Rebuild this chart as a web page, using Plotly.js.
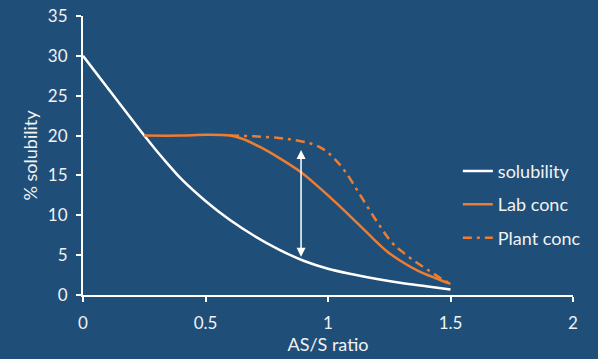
<!DOCTYPE html>
<html><head><meta charset="utf-8">
<script src="https://cdn.plot.ly/plotly-3.0.1.min.js"></script>
<style>html,body{margin:0;padding:0;background:#1f4e79;}#chart{width:598px;height:359px;}</style>
</head><body><div id="chart"></div>
<script>
const solX = [0, 0.125, 0.25, 0.3, 0.35, 0.4, 0.5, 0.6, 0.7, 0.8, 0.9, 1.0, 1.1, 1.2, 1.3, 1.4, 1.5];
const solY = [30, 25, 20, 18.1, 16.3, 14.6, 11.8, 9.4, 7.4, 5.7, 4.3, 3.3, 2.6, 2.0, 1.5, 1.1, 0.7];
const labX = [0.25, 0.4, 0.5, 0.6, 0.65, 0.72, 0.8, 0.89, 0.96, 1.0, 1.07, 1.1, 1.17, 1.24, 1.3, 1.37, 1.44, 1.5];
const labY = [20, 20, 20.1, 20, 19.6, 18.6, 17.2, 15.4, 13.6, 12.5, 10.5, 9.6, 7.5, 5.5, 4.2, 3.0, 2.1, 1.4];
const plantX = [0.6, 0.7, 0.8, 0.87, 0.93, 0.98, 1.02, 1.07, 1.13, 1.2, 1.26, 1.3, 1.36, 1.41, 1.46, 1.5];
const plantY = [20, 19.9, 19.7, 19.4, 19.0, 18.3, 17.3, 15.5, 12.6, 9.2, 6.6, 5.5, 4.1, 3.1, 2.1, 1.4];
const names = ["solubility", "Lab conc", "Plant conc"];
const xTicks = [0, 0.5, 1, 1.5, 2];
const xTickText = ["0", "0.5", "1", "1.5", "2"];
const yTicks = [0, 5, 10, 15, 20, 25, 30, 35];
const arrowX = 0.89, arrowTop = 18.2, arrowBottom = 4.6;

const orange = "#ED7D31";
const fontFam = "Lato, 'Open Sans', sans-serif";
const txt = "#f2f2f2";
const traces = [
  {x: solX, y: solY, name: names[0], mode: "lines", line: {color: "#ffffff", width: 2.5, shape: "spline"}, legendgroup: "a"},
  {x: labX, y: labY, name: names[1], mode: "lines", line: {color: orange, width: 2.5, shape: "spline"}, legendgroup: "b"},
  {x: plantX, y: plantY, name: names[2], mode: "lines", line: {color: orange, width: 2.5, shape: "spline", dash: "9px,5px,3px,5px"}, legendgroup: "c"}
];
const axisCommon = {
  showgrid: false, zeroline: false, showline: true, linecolor: "#ffffff", linewidth: 2,
  ticks: "outside", tickcolor: "#ffffff", ticklen: 5, tickwidth: 2,
  tickfont: {family: fontFam, size: 17, color: txt}
};
const layout = {
  width: 598, height: 359,
  paper_bgcolor: "#1f4e79", plot_bgcolor: "#1f4e79",
  margin: {l: 83, r: 23, t: 16, b: 64},
  font: {family: fontFam, color: txt, size: 17},
  xaxis: Object.assign({}, axisCommon, {range: [0, 2], tickvals: xTicks, ticktext: xTickText, ticklabelstandoff: 7,
    title: {text: "AS/S ratio", font: {family: fontFam, size: 18, color: txt}, standoff: 4}}),
  yaxis: Object.assign({}, axisCommon, {range: [0, 35], tickvals: yTicks, ticklabelstandoff: 5,
    title: {text: "% solubility", font: {family: fontFam, size: 18, color: txt}, standoff: 6}}),
  legend: {x: 0.765, y: 0.51, xanchor: "left", yanchor: "top", bgcolor: "rgba(0,0,0,0)",
    font: {family: fontFam, size: 18, color: txt}, traceorder: "grouped", tracegroupgap: 7},
  annotations: [{
    x: arrowX, y: arrowTop, ax: arrowX, ay: arrowBottom, xref: "x", yref: "y", axref: "x", ayref: "y",
    text: "", showarrow: true, arrowhead: 2, startarrowhead: 2, arrowside: "end+start",
    arrowsize: 1.2, startarrowsize: 1.2, arrowwidth: 1.5, arrowcolor: "#ffffff"
  }]
};
Plotly.newPlot("chart", traces, layout, {displayModeBar: false, staticPlot: true});
</script></body></html>
